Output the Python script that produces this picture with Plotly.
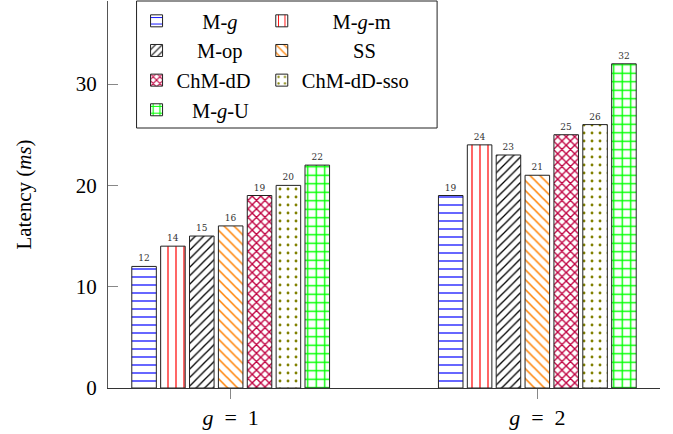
import plotly.graph_objects as go

categories = ["<i>g</i>&nbsp; =&nbsp; 1", "<i>g</i>&nbsp; =&nbsp; 2"]
m_g = [12, 19]
m_g_m = [14, 24]
m_op = [15, 23]
ss = [16, 21]
chm_dd = [19, 25]
chm_dd_sso = [20, 26]
m_g_u = [22, 32]
y_ticks = [0, 10, 20, 30]

values = [m_g, m_g_m, m_op, ss, chm_dd, chm_dd_sso, m_g_u]
# legend display labels (padded to mimic centred legend text)
legend_labels = [
    "&nbsp;&nbsp;&nbsp;&nbsp;&nbsp;M-<i>g</i>",
    "&nbsp;&nbsp;&nbsp;&nbsp;&nbsp;&nbsp;M-<i>g</i>-m",
    "&nbsp;&nbsp;&nbsp;&nbsp;M-op",
    "&nbsp;&nbsp;&nbsp;&nbsp;&nbsp;&nbsp;&nbsp;&nbsp;&nbsp;&nbsp;SS",
    "ChM-dD",
    "ChM-dD-sso",
    "&nbsp;&nbsp;&nbsp;M-<i>g</i>-U",
]
styles = [
    dict(shape="-", fg="#0000FF", size=8, sol=0.15),
    dict(shape="|", fg="#FF0000", size=8, sol=0.15),
    dict(shape="/", fg="#000000", size=6, sol=0.22),
    dict(shape="\\", fg="#FF8000", size=7, sol=0.22),
    dict(shape="x", fg="#BF0040", size=6, sol=0.4),
    dict(shape=".", fg="#808000", size=8, sol=0.1),
    dict(shape="+", fg="#00FF00", size=8.5, sol=0.3),
]
legend_of = ["legend", "legend2", "legend", "legend2", "legend", "legend2", "legend"]

fig = go.Figure()
for lab, vals, st, lg in zip(legend_labels, values, styles, legend_of):
    fig.add_trace(go.Bar(
        x=categories, y=vals, name=lab, legend=lg,
        marker=dict(
            color="white",
            line=dict(color="#222222", width=1),
            pattern=dict(shape=st["shape"], fgcolor=st["fg"], bgcolor="white",
                         size=st["size"], solidity=st["sol"], fillmode="overlay",
                         fgopacity=1),
        ),
        text=[str(v) for v in vals], textposition="outside",
        textfont=dict(family="DejaVu Serif", size=9, color="#333333"),
        cliponaxis=False,
    ))

x0, x1 = 108.5, 659.5
pw = x1 - x0
fig.update_layout(
    width=673, height=434,
    margin=dict(l=108, r=13, t=1, b=46, pad=0),
    paper_bgcolor="white", plot_bgcolor="white",
    barmode="group", bargap=0.341, bargroupgap=0.15,
    font=dict(family="Liberation Serif", size=21, color="black"),
    xaxis=dict(
        range=[-0.4, 1.4], showline=True, linecolor="#333333", linewidth=1,
        ticks="outside", ticklen=10, tickcolor="#888888", tickwidth=1,
        showgrid=False, zeroline=False, tickfont=dict(size=22),
    ),
    yaxis=dict(
        range=[0, 38.2], tickvals=y_ticks, showline=True, linecolor="#555555", linewidth=1,
        ticks="inside", ticklen=10, tickcolor="#888888", tickwidth=1,
        showgrid=False, zeroline=False, tickfont=dict(size=21),
        ticklabelstandoff=6,
        title=dict(text="Latency (<i>ms</i>)", font=dict(size=21), standoff=38),
    ),
    legend=dict(x=(137 - x0) / pw, y=1.0, xanchor="left", yanchor="top",
                bgcolor="rgba(0,0,0,0)", borderwidth=0, font=dict(size=20.5),
                tracegroupgap=0),
    legend2=dict(x=(262 - x0) / pw, y=1.0, xanchor="left", yanchor="top",
                 bgcolor="rgba(0,0,0,0)", borderwidth=0, font=dict(size=20.5),
                 tracegroupgap=0),
    shapes=[dict(type="rect", xref="paper", yref="paper",
                 x0=(137 - x0) / pw, x1=(437 - x0) / pw,
                 y0=(388 - 128) / 387, y1=1.0,
                 line=dict(color="#222222", width=1), fillcolor="white", layer="above")],
)

fig.write_html("out.html", config={"displayModeBar": False},
               post_script="document.body.style.margin='0px';document.body.style.overflow='hidden';")
